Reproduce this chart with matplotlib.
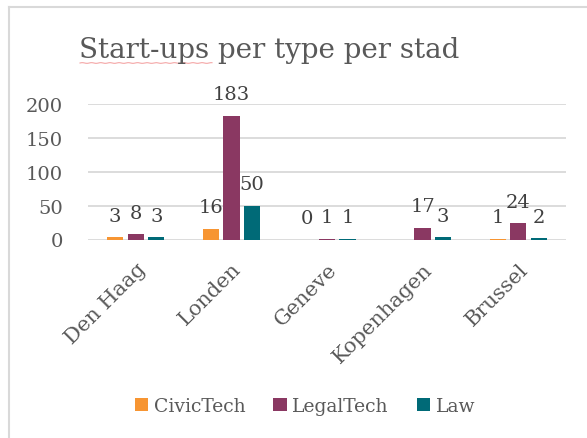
import matplotlib.pyplot as plt
import numpy as np
from matplotlib.lines import Line2D

steden = ['Den Haag', 'Londen', 'Geneve', 'Kopenhagen', 'Brussel']
civictech = [3, 16, 0, np.nan, 1]
legaltech = [8, 183, 1, 17, 24]
law = [3, 50, 1, 3, 2]

series = [('CivicTech', civictech, '#F79532'),
          ('LegalTech', legaltech, '#8A3862'),
          ('Law', law, '#006A77')]

plt.rcParams['font.family'] = ['DejaVu Serif']
txt = '#595959'

fig = plt.figure(figsize=(5.87, 4.39), dpi=100)
ax = fig.add_axes([88 / 587, 1 - 240.5 / 439, 478 / 587, 135.5 / 439])

x = np.arange(len(steden))
w = 0.17
step = 0.215
for i, (naam, vals, kleur) in enumerate(series):
    pos = x + (i - 1) * step
    hoogte = np.nan_to_num(np.array(vals, dtype=float))
    ax.bar(pos, hoogte, width=w, color=kleur, label=naam, zorder=3)
    for p, v in zip(pos, vals):
        if np.isnan(v):
            continue
        ax.annotate(f'{int(v)}', (p, v), xytext=(0, 9), textcoords='offset points',
                    ha='center', va='bottom', fontsize=14, color='#404040',
                    annotation_clip=False)

ax.set_xlim(-0.5, len(steden) - 0.5)
ax.set_ylim(0, 200)
ax.set_yticks([0, 50, 100, 150, 200])
ax.yaxis.grid(True, color='#D9D9D9', linewidth=1.3, zorder=0)
ax.set_axisbelow(True)
for s in ax.spines.values():
    s.set_visible(False)
ax.tick_params(length=0, labelsize=14, labelcolor=txt)
ax.tick_params(axis='y', pad=18)
ax.set_xticks(x)
ax.set_xticklabels(steden, rotation=45, ha='right', rotation_mode='anchor',
                   fontsize=15, color=txt)
ax.tick_params(axis='x', pad=14)

fig.text(269 / 587, 1 - 50 / 439, 'Start-ups per type per stad', ha='center',
         va='center', fontsize=20, color=txt)

# spellcheck squiggle under the first word of the title
sx = np.linspace(80, 212, 200) / 587
sy = (1 - 64 / 439) + 0.0008 * np.sin(np.linspace(0, 90, 200))
fig.add_artist(Line2D(sx, sy, color='#F4A6A6', linewidth=0.8))

# chart frame
fig.add_artist(Line2D([8.5 / 587, 8.5 / 587], [0, 1 - 8 / 439],
                      color='#D9D9D9', linewidth=1.5))
fig.add_artist(Line2D([8.5 / 587, 1], [1 - 8 / 439, 1 - 8 / 439],
                      color='#D9D9D9', linewidth=1.5))

fig.legend(loc='center', bbox_to_anchor=(305 / 587, 1 - 407 / 439), ncol=3,
           frameon=False, fontsize=13.5, handlelength=0.7, handleheight=0.7,
           handletextpad=0.3, columnspacing=1.5, labelcolor=txt)

fig.savefig('out.png', dpi=100)
